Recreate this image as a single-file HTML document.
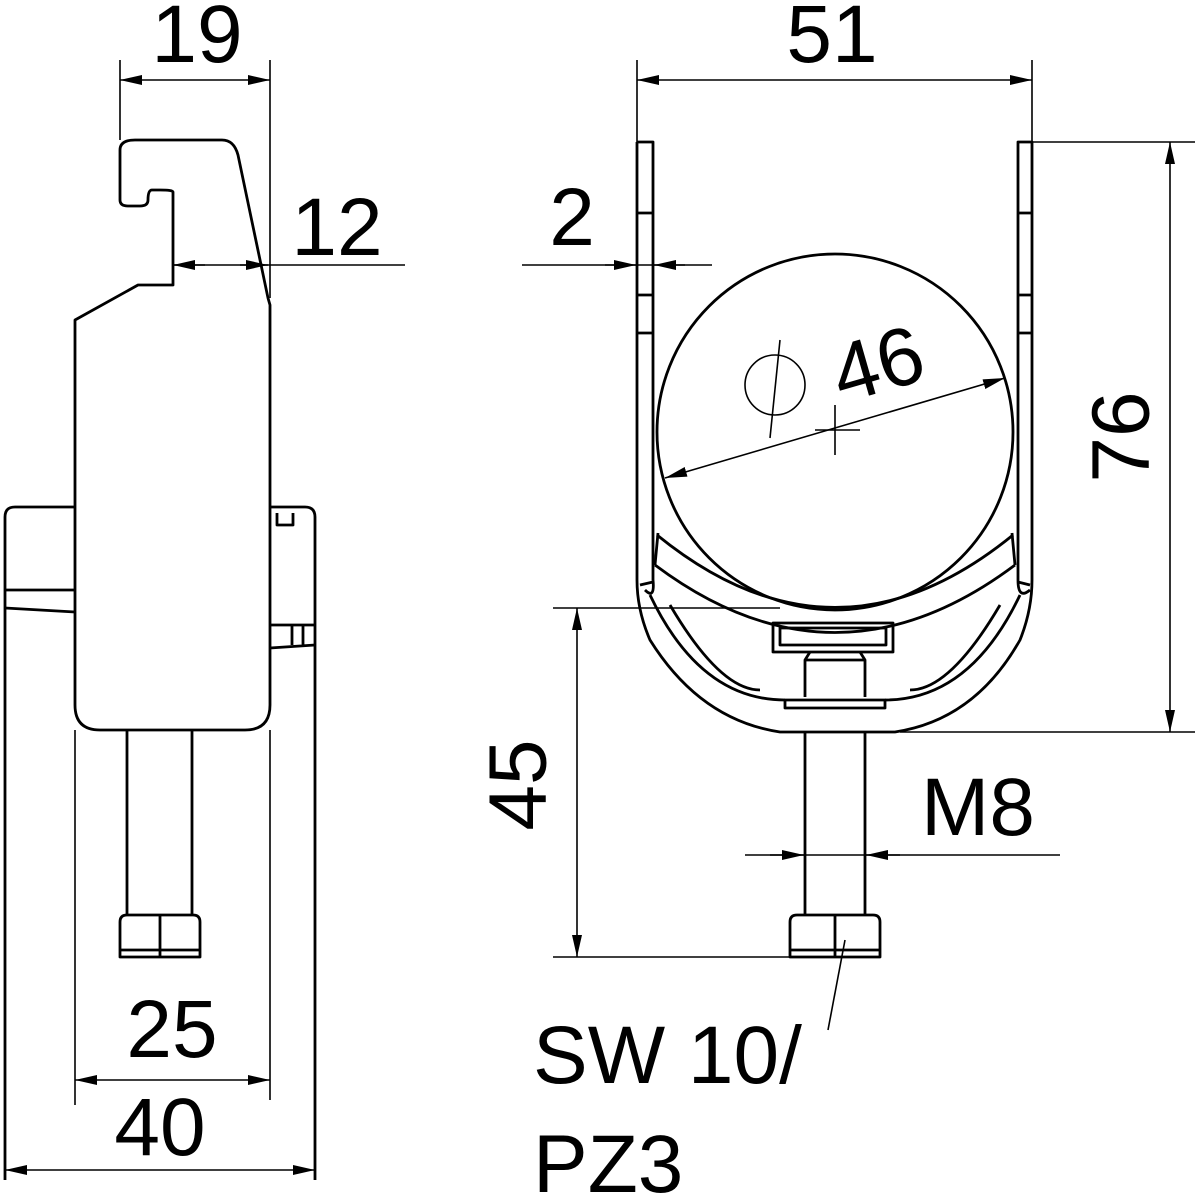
<!DOCTYPE html>
<html><head><style>html,body{margin:0;padding:0;background:#fff}svg{display:block}</style></head><body>
<svg width="1200" height="1200" viewBox="0 0 1200 1200" xmlns="http://www.w3.org/2000/svg">
<defs>
<marker id="a" viewBox="0 0 22 10" refX="22" refY="5" markerWidth="22" markerHeight="10" markerUnits="userSpaceOnUse" orient="auto-start-reverse"><path d="M0,0 L22,5 L0,10 Z" fill="#000"/></marker>
</defs>
<g fill="none" stroke="#000" stroke-width="2.8" stroke-linejoin="round">
<!-- LEFT VIEW -->
<path d="M120,200 L120,150 Q120,140 135,140 L222,140 Q234,140 238,155 L268,298 L270,305 L270,705 Q270,730 245,730 L100,730 Q75,730 75,705 L75,320 L138,285 L173,285 L173,192 Q173,190 160,190 L152,190 Q148,190 148,200 Q148,206 140,206 L128,206 Q120,206 120,200 Z"/>
<path d="M75,507 L15,507 Q5,507 5,517 L5,1180"/>
<path d="M5,590 L75,590 M5,608 L75,612"/>
<path d="M270,507 L305,507 Q315,507 315,517 L315,1180"/>
<path d="M277,513 L277,525 L293,525 L293,513"/>
<path d="M270,625 L315,625 M270,648 L315,645 M292,625 L292,645 M303,625 L303,645"/>
<path d="M127,730 L127,915 M192,730 L192,915"/>
<path d="M120,922 Q120,915 127,915 L193,915 Q200,915 200,922 L200,957 L120,957 Z M160,915 L160,957 M120,950 L200,950"/>
</g>
<g fill="none" stroke="#000" stroke-width="1.6">
<path d="M120,60 L120,140 M270,60 L270,298 M270,730 L270,1100"/>
<line x1="120" y1="80" x2="270" y2="80" marker-start="url(#a)" marker-end="url(#a)"/>
<line x1="173" y1="265" x2="405" y2="265"/>
<line x1="173" y1="265" x2="205" y2="265" marker-start="url(#a)"/>
<line x1="240" y1="265" x2="268" y2="265" marker-end="url(#a)"/>
<path d="M75,730 L75,1105"/>
<line x1="75" y1="1080" x2="270" y2="1080" marker-start="url(#a)" marker-end="url(#a)"/>
<line x1="5" y1="1170" x2="315" y2="1170" marker-start="url(#a)" marker-end="url(#a)"/>
</g>
<!-- RIGHT VIEW -->
<g fill="none" stroke="#000" stroke-width="2.8" stroke-linejoin="round">
<path d="M637,142 L653,142 L653,580 M637,142 L637,580 Q637,610 650,640 Q700,720 780,732 L895,732 Q975,720 1020,640 Q1032,610 1032,580 L1032,142 L1018,142 L1018,580"/>
<path d="M637,213 L653,213 M637,295 L653,295 M637,333 L653,333 M1018,213 L1032,213 M1018,295 L1032,295 M1018,333 L1032,333"/>
<path d="M653,580 Q655,600 645,590 M1018,580 Q1018,600 1030,590"/>
<path d="M640,585 L653,582 M1018,582 L1030,585"/>
<path d="M657,535 Q835,680 1013,535 M655,565 Q835,700 1015,565"/>
<path d="M658,533 L655,565 M1012,533 L1015,565"/>
<path d="M650,595 Q700,700 785,700 M1020,595 Q970,700 885,700"/>
<path d="M670,605 Q720,690 760,690 M1000,605 Q950,690 910,690"/>
<path d="M785,700 L885,700 L885,708 L785,708 Z"/>
<path d="M773,623 L893,623 L893,652 L773,652 Z M780,628 L886,628 L886,645 L780,645 Z"/>
<path d="M810,652 L805,660 L805,697 M860,652 L865,660 L865,697 M805,660 L865,660"/>
<circle cx="835" cy="432" r="178"/>
<path d="M805,732 L805,915 M865,732 L865,915"/>
<path d="M790,922 Q790,915 797,915 L873,915 Q880,915 880,922 L880,957 L790,957 Z M835,915 L835,957 M790,950 L880,950"/>
</g>
<g fill="none" stroke="#000" stroke-width="1.6">
<path d="M637,60 L637,142 M1032,60 L1032,142"/>
<line x1="637" y1="80" x2="1032" y2="80" marker-start="url(#a)" marker-end="url(#a)"/>
<line x1="522" y1="265" x2="712" y2="265"/>
<line x1="605" y1="265" x2="636" y2="265" marker-end="url(#a)"/>
<line x1="654" y1="265" x2="685" y2="265" marker-start="url(#a)"/>
<line x1="665" y1="478" x2="1005" y2="378" marker-start="url(#a)" marker-end="url(#a)"/>
<path d="M815,430 L860,430 M835,405 L835,455"/>
<circle cx="775" cy="385" r="30"/>
<path d="M780,340 L770,438"/>
<path d="M1032,142 L1195,142 M900,732 L1195,732"/>
<line x1="1170" y1="142" x2="1170" y2="732" marker-start="url(#a)" marker-end="url(#a)"/>
<path d="M553,608 L780,608 M553,957 L880,957"/>
<line x1="577" y1="608" x2="577" y2="957" marker-start="url(#a)" marker-end="url(#a)"/>
<line x1="745" y1="855" x2="1060" y2="855"/>
<line x1="770" y1="855" x2="804" y2="855" marker-end="url(#a)"/>
<line x1="866" y1="855" x2="900" y2="855" marker-start="url(#a)"/>
<path d="M845,940 L828,1030"/>
</g>
<g font-family="Liberation Sans, sans-serif" font-size="82" fill="#000">
<text x="197" y="62" text-anchor="middle">19</text>
<text x="337" y="255" text-anchor="middle">12</text>
<text x="172" y="1057" text-anchor="middle">25</text>
<text x="160" y="1155" text-anchor="middle">40</text>
<text x="832" y="62" text-anchor="middle">51</text>
<text x="572" y="245" text-anchor="middle">2</text>
<text x="878" y="392" text-anchor="middle" transform="rotate(-16 878 365)">46</text>
<text x="1127" y="437" text-anchor="middle" dominant-baseline="middle" transform="rotate(-90 1127 437)">76</text>
<text x="524" y="785" text-anchor="middle" dominant-baseline="middle" transform="rotate(-90 524 785)">45</text>
<text x="978" y="835" text-anchor="middle">M8</text>
<text x="533" y="1083">SW 10/</text>
<text x="533" y="1192">PZ3</text>
</g>
</svg>
</body></html>
